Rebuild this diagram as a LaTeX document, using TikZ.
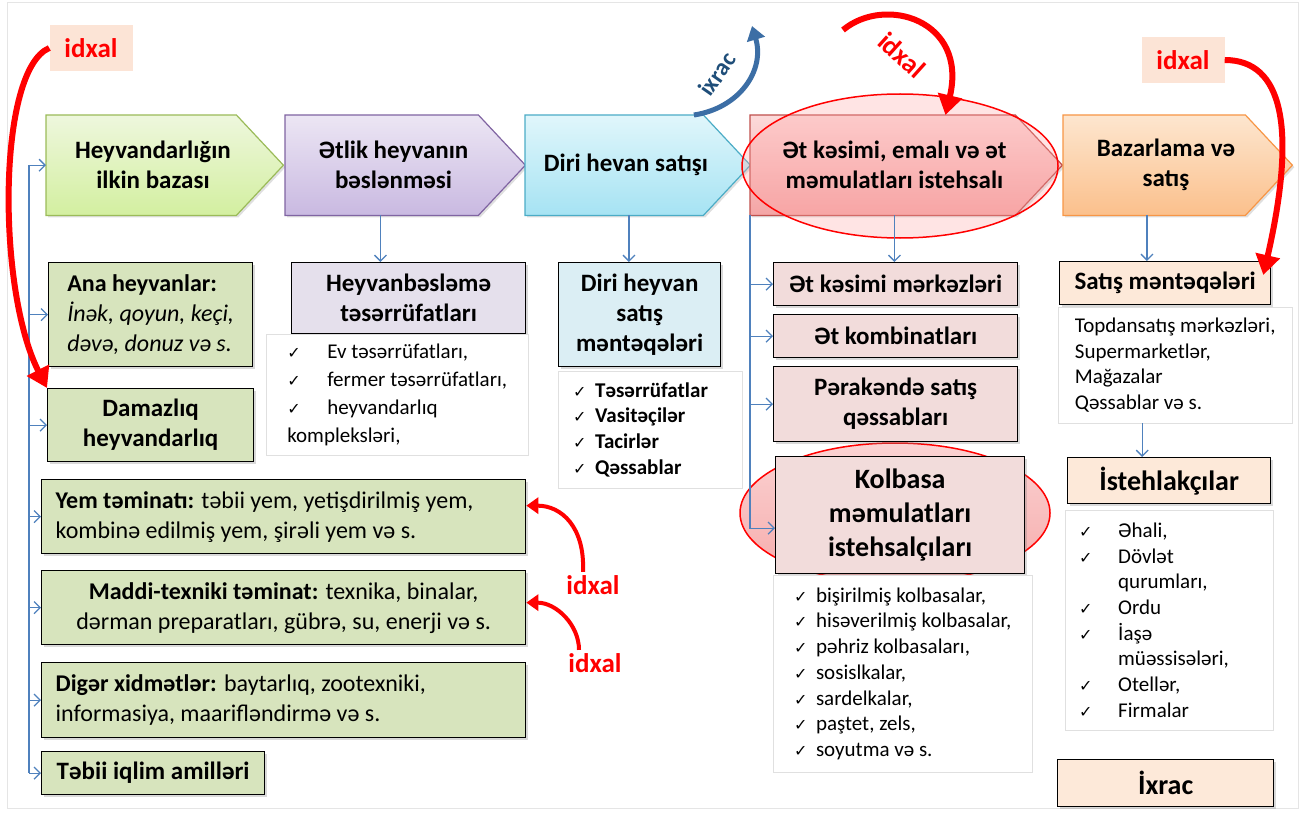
\documentclass[tikz,border=0pt]{standalone}
\usepackage{fontspec}
\setmainfont{Carlito}
\newfontfamily\symf{DejaVu Sans}
\usetikzlibrary{arrows.meta,backgrounds,shadows}
\definecolor{lnkc}{HTML}{4F81BD}
\definecolor{grT}{HTML}{EEF7DD}\definecolor{grB}{HTML}{D3EFA0}\definecolor{grD}{HTML}{9BBB59}
\definecolor{puT}{HTML}{ECE6F4}\definecolor{puB}{HTML}{C9B9E1}\definecolor{puD}{HTML}{8064A2}
\definecolor{cyT}{HTML}{E0F6FB}\definecolor{cyB}{HTML}{A6E3F3}\definecolor{cyD}{HTML}{4BACC6}
\definecolor{rdT}{HTML}{FCDADA}\definecolor{rdB}{HTML}{F4A5A5}\definecolor{rdD}{HTML}{C0504D}
\definecolor{orT}{HTML}{FDE6CF}\definecolor{orB}{HTML}{FBC08C}\definecolor{orD}{HTML}{F79646}
\definecolor{grbox}{HTML}{D7E4BD}
\definecolor{pubox}{HTML}{E5E0EC}
\definecolor{cybox}{HTML}{DBEEF4}
\definecolor{rdbox}{HTML}{F2DCDB}
\definecolor{orbox}{HTML}{FDE9D9}
\definecolor{lblbg}{HTML}{FCE4D6}
\definecolor{ixc}{HTML}{3C6EA5}
\definecolor{ixtxt}{HTML}{1F4E79}
\definecolor{elT}{HTML}{FBD3D3}\definecolor{elB}{HTML}{F6AAAA}
\newcommand\chkm{{\symf\fontsize{16}{16}\selectfont ✓}}
\newcommand\ckb[1]{\makebox[#1pt][l]{\chkm}}

\begin{document}
\begin{tikzpicture}[x=1pt,y=-1pt,
    chev/.style={anchor=north west, minimum height=100pt, inner sep=0pt, align=center,
      font=\bfseries\fontsize{25}{30}\selectfont},
    box/.style={draw, line width=1.3pt, anchor=north west, inner sep=0pt, align=center,
      font=\bfseries\fontsize{25}{30}\selectfont,
      drop shadow={opacity=.3, shadow xshift=2pt, shadow yshift=-2pt}},
    lst/.style={draw=black!12, fill=white, anchor=north west, inner sep=0pt, align=flush left,
      font=\fontsize{21}{25.7}\selectfont},
    lnk/.style={draw=lnkc, line width=1.3pt},
    arr/.style={lnk, -{Straight Barb[length=6pt,width=12pt]}},
    idx/.style={draw=red, line width=6pt, -{Triangle[length=20pt,width=24pt]}},
    idxs/.style={draw=red, line width=4pt, -{Triangle[length=12pt,width=16pt]}},
    ixa/.style={draw=ixc, line width=5pt, -{Triangle[length=14pt,width=18pt]}},
    lbl/.style={text=red, font=\bfseries\fontsize{27}{27}\selectfont}]
  \useasboundingbox (0,0) rectangle (1305,813);
  \draw[black!10, line width=1pt] (7,3) rectangle (1298,808);

  \node[chev, minimum width=213.5pt] (c1) at (46,115) {Heyvandarlığın\\ilkin bazası};
  \node[chev, minimum width=216.5pt] (c2) at (285,115) {Ətlik heyvanın\\bəslənməsi};
  \node[chev, minimum width=201.5pt] (c3) at (525,115) {Diri hevan satışı};
  \node[chev, minimum width=288.5pt] (c4) at (750,115) {Ət kəsimi, emalı və ət\\məmulatları istehsalı};
  \node[chev, minimum width=205.5pt] (c5) at (1063,115) {Bazarlama və\\satış};

  \node[box, fill=grbox, minimum width=204pt, minimum height=104pt, align=flush left,
    font=\fontsize{24}{30}\selectfont] (ana) at (48,262)
    {\textbf{Ana heyvanlar:}\\\textit{İnək, qoyun, keçi,}\\\textit{dəvə, donuz və s.}};
  \node[box, fill=grbox, minimum width=206pt, minimum height=73pt] (dam) at (47,388) {Damazlıq\\heyvandarlıq};
  \node[box, fill=grbox, text width=456pt, inner xsep=14pt, minimum height=74pt, align=flush left,
    font=\fontsize{24}{30}\selectfont] (yem) at (41,479)
    {\textbf{Yem təminatı:} təbii yem, yetişdirilmiş yem,\\kombinə edilmiş yem, şirəli yem və s.};
  \node[box, fill=grbox, minimum width=484pt, minimum height=74pt,
    font=\fontsize{24}{30}\selectfont] (mad) at (41,570)
    {\textbf{Maddi-texniki təminat:} texnika, binalar,\\dərman preparatları, gübrə, su, enerji və s.};
  \node[box, fill=grbox, text width=456pt, inner xsep=14pt, minimum height=75pt, align=flush left,
    font=\fontsize{24}{30}\selectfont] (dig) at (41,662)
    {\textbf{Digər xidmətlər:} baytarlıq, zootexniki,\\informasiya, maarifləndirmə və s.};
  \node[box, fill=grbox, minimum width=223pt, minimum height=43pt] (teb) at (41,751) {Təbii iqlim amilləri};

  \node[box, fill=pubox, minimum width=234pt, minimum height=71pt] (bes) at (291,262) {Heyvanbəsləmə\\təsərrüfatları};
  \node[lst, minimum width=262pt, minimum height=121pt, font=\fontsize{21}{28}\selectfont] (besl) at (266,334)
    {\ckb{40}Ev təsərrüfatları,\\\ckb{40}fermer təsərrüfatları,\\\ckb{40}heyvandarlıq\\kompleksləri,};

  \node[box, fill=cybox, minimum width=162pt, minimum height=104pt] (dir) at (558,262) {Diri heyvan\\satış\\məntəqələri};
  \node[lst, text width=154pt, inner xsep=15pt, minimum height=117pt,
    font=\bfseries\fontsize{21}{25.7}\selectfont] (dirl) at (558,371)
    {\ckb{22}Təsərrüfatlar\\\ckb{22}Vasitəçilər\\\ckb{22}Tacirlər\\\ckb{22}Qəssablar};

  \node[box, fill=rdbox, minimum width=244pt, minimum height=43pt] (ket) at (773,262) {Ət kəsimi mərkəzləri};
  \node[box, fill=rdbox, minimum width=244pt, minimum height=43pt] (komb) at (773,314) {Ət kombinatları};
  \node[box, fill=rdbox, minimum width=244pt, minimum height=75pt] (per) at (773,366) {Pərakəndə satış\\qəssabları};
  \node[box, fill=rdbox, minimum width=249pt, minimum height=117pt,
    font=\bfseries\fontsize{28}{34}\selectfont] (kolb) at (775,456) {Kolbasa\\məmulatları\\istehsalçıları};
  \node[lst, minimum width=259pt, minimum height=197pt] (kolbl) at (773,575)
    {\ckb{22}bişirilmiş kolbasalar,\\\ckb{22}hisəverilmiş kolbasalar,\\\ckb{22}pəhriz kolbasaları,\\
     \ckb{22}sosislkalar,\\\ckb{22}sardelkalar,\\\ckb{22}paştet, zels,\\\ckb{22}soyutma və s.};

  \node[box, fill=orbox, minimum width=211pt, minimum height=43pt] (sat) at (1059,261) {Satış məntəqələri};
  \node[lst, minimum width=234pt, minimum height=116pt] (tsm) at (1058,307)
    {Topdansatış mərkəzləri,\\Supermarketlər,\\Mağazalar\\Qəssablar və s.};
  \node[box, fill=orbox, minimum width=203pt, minimum height=46pt,
    font=\bfseries\fontsize{28}{34}\selectfont] (ist) at (1067,457) {İstehlakçılar};
  \node[lst, text width=180pt, inner xsep=14pt, minimum height=220pt] (istl) at (1065,510)
    {\ckb{39}Əhali,\\\ckb{39}Dövlət\\\hspace*{39pt}qurumları,\\\ckb{39}Ordu\\\ckb{39}İaşə\\
     \hspace*{39pt}müəssisələri,\\\ckb{39}Otellər,\\\ckb{39}Firmalar};
  \node[box, fill=orbox, minimum width=216pt, minimum height=47pt,
    font=\bfseries\fontsize{28}{34}\selectfont] (ixr) at (1057,759) {İxrac};

  \node[lbl, fill=lblbg, minimum width=83pt, minimum height=46pt] (idL) at (91,48) {idxal};
  \node[lbl, fill=lblbg, minimum width=83pt, minimum height=46pt] (idR) at (1183,60) {idxal};
  \node[lbl, rotate=-42] (idM) at (902,55) {idxal};
  \node[lbl] (idA) at (593,585) {idxal};
  \node[lbl] (idB) at (595,663) {idxal};
  \node[text=ixtxt, rotate=55, font=\bfseries\fontsize{24}{24}\selectfont] (ixl) at (717,74) {ixrac};
  \coordinate (mst) at (843,30);
  \coordinate (ixt) at (752,26);
  \coordinate (lt) at (29,165);

  \begin{scope}[on background layer]
    \foreach \n/\ct/\cb/\cd in {c1/grT/grB/grD, c2/puT/puB/puD, c3/cyT/cyB/cyD, c4/rdT/rdB/rdD, c5/orT/orB/orD}
      \shadedraw[top color=\ct, bottom color=\cb, draw=\cd, line width=1.2pt,
        drop shadow={opacity=.25, shadow xshift=2pt, shadow yshift=-2pt}]
        (\n.north west) -- ([xshift=-23.5pt]\n.north east) -- ([xshift=23.5pt]\n.east)
        -- ([xshift=-23.5pt]\n.south east) -- (\n.south west) -- cycle;
    \draw[draw=red, line width=1.5pt, fill=red!35, fill opacity=.3] (900,166) ellipse [x radius=158pt, y radius=72pt];
    \shadedraw[top color=elT, bottom color=elB, draw=red, line width=1.5pt]
      (895,513) ellipse [x radius=155pt, y radius=70pt];
  \end{scope}

  \draw[lnk] (lt) -- (lt |- teb.west);
  \foreach \n in {c1,ana,dam,yem,mad,dig,teb}
    \draw[arr] (lt |- \n.west) -- (\n.west);
  \draw[arr] (c4.south west) |- ([yshift=-13pt]kolb.west);
  \foreach \n in {ket,komb,per}
    \draw[arr] (c4.south west |- \n.west) -- (\n.west);
  \foreach \a/\b/\s in {c2/bes/-13, c3/dir/3, c4/ket/0, c5/sat/-19, tsm/ist/-33}
    \draw[arr] ([xshift=\s]\a.south) -- ([xshift=\s]\a.south |- \b.north);

  \draw[idx] (idL.west) .. controls (-3,70) and (-3,290) .. (dam.north west);
  \draw[idx] (mst) .. controls (885,-5) and (968,20) .. ([xshift=51pt]c4.north);
  \draw[idx] (idR.east) .. controls (1283,60) and (1297,128) .. ([xshift=-8pt,yshift=-14pt]sat.north east);
  \draw[idxs] ([xshift=-10pt]idA.north) .. controls +(2,-45) and +(35,0) .. ([yshift=11pt]yem.east);
  \draw[idxs] ([xshift=-16pt]idB.north) .. controls +(0,-25) and +(30,0) .. ([yshift=5pt]mad.east);
  \draw[ixa] ([xshift=-33pt]c3.north east) .. controls (740,108) and (765,70) .. (ixt);
\end{tikzpicture}
\end{document}
